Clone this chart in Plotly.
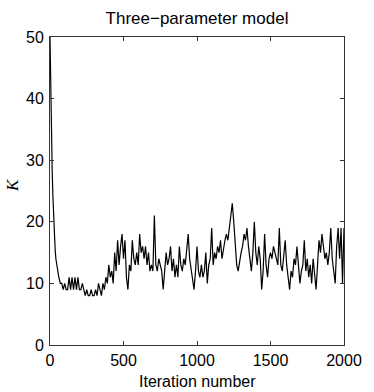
import plotly.graph_objects as go

# Sampled iterations: finer steps through the initial burn-in drop
iterations = list(range(0, 50, 5)) + list(range(50, 2001, 10))

k_burnin = [50, 41, 33, 28, 24, 20, 18, 15.5, 14, 13]
k_trace = [
    12, 11, 10, 10, 9, 10, 9, 9, 11, 9,
    11, 9, 11, 9, 11, 9, 9, 10, 9, 8,
    9, 8, 8, 9, 8, 8, 9, 8, 10, 9,
    8, 10, 9, 11, 10, 13, 11, 12, 10, 15,
    12, 17, 13, 16, 18, 14, 17, 11, 9, 13,
    12, 17, 14, 13, 15, 13, 18, 15, 16, 14,
    16, 13, 15, 12, 13, 12, 21, 13, 12, 14,
    13, 12, 9, 12, 15, 13, 14, 16, 12, 14,
    11, 13, 11, 16, 13, 12, 14, 13, 15, 18,
    14, 12, 10, 9, 12, 16, 12, 11, 13, 11,
    12, 15, 10, 13, 14, 19, 13, 15, 14, 16,
    15, 17, 14, 16, 17, 18, 17, 19, 21, 23,
    20, 17, 13, 12, 14, 15, 16, 18, 17, 19,
    16, 14, 12, 15, 20, 15, 13, 16, 14, 9,
    12, 18, 13, 11, 14, 15, 14, 16, 15, 14,
    13, 19, 13, 12, 14, 17, 13, 11, 9, 12,
    11, 14, 13, 16, 12, 10, 12, 13, 17, 12,
    14, 11, 13, 10, 14, 12, 9, 13, 17, 15,
    18, 16, 14, 15, 13, 15, 19, 14, 12, 10,
    16, 19, 14, 19, 10, 19,
]
k_values = k_burnin + k_trace

x_ticks = [0, 500, 1000, 1500, 2000]
y_ticks = [0, 10, 20, 30, 40, 50]

FONT = "Liberation Sans, Arial"
SIZE = 16

fig = go.Figure()
fig.add_trace(go.Scatter(x=iterations, y=k_values, mode="lines",
                         line=dict(color="black", width=1.2), showlegend=False))

axis_style = dict(showline=True, linecolor="#333333", linewidth=1, mirror="ticks",
                  ticks="inside", ticklen=4, tickcolor="#333333", showgrid=False,
                  zeroline=False, tickfont=dict(family=FONT, size=SIZE, color="black"))

fig.update_xaxes(range=[0, 2000], tickvals=x_ticks, ticklabelstandoff=1, **axis_style)
fig.update_yaxes(range=[0, 50], tickvals=y_ticks, ticklabelstandoff=2, **axis_style)

fig.update_layout(
    width=374, height=392,
    margin=dict(l=50, r=25, t=37, b=47),
    plot_bgcolor="white", paper_bgcolor="white",
    title=dict(text="Three\u2212parameter model", x=0.5, xref="paper",
               y=1 - 18 / 392, yref="container", yanchor="middle",
               font=dict(family=FONT, size=17, color="black")),
)

# Axis labels
fig.add_annotation(text="Iteration number", x=0.5, y=-0.117, xref="paper",
                   yref="paper", showarrow=False, yanchor="middle",
                   font=dict(family=FONT, size=SIZE, color="black"))
fig.add_annotation(text="<i>K</i>", x=(12.5 - 50) / (374 - 75), y=0.52,
                   xref="paper", yref="paper",
                   xanchor="center", yanchor="middle", showarrow=False, textangle=-90,
                   font=dict(family="Liberation Serif, Times New Roman", size=17,
                             color="black"))

# drop the default page margin so the figure sits at the window's corner
fig.write_html("out.html", config={"displayModeBar": False},
               post_script="document.body.style.margin='0';")
